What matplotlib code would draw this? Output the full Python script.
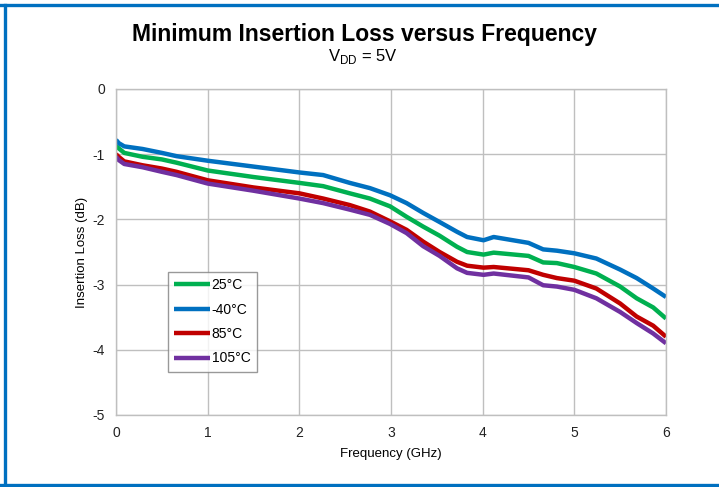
import matplotlib
matplotlib.use("Agg")
import matplotlib.pyplot as plt
from matplotlib.lines import Line2D

plt.rcParams['font.family'] = ['Liberation Sans', 'DejaVu Sans']

freq = [0.0, 0.03, 0.09, 0.29, 0.5, 0.66, 1.0, 1.5, 2.0, 2.26, 2.55, 2.77, 2.99, 3.17, 3.35,
        3.53, 3.72, 3.83, 4.01, 4.12, 4.50, 4.66, 4.81, 5.00, 5.24, 5.50, 5.68, 5.86, 6.0]

loss_m40 = [-0.78, -0.83, -0.88, -0.92, -0.98, -1.03, -1.10, -1.19, -1.28, -1.32, -1.44, -1.52, -1.63, -1.75, -1.90,
            -2.04, -2.19, -2.27, -2.32, -2.27, -2.36, -2.46, -2.48, -2.52, -2.60, -2.77, -2.90, -3.06, -3.19]
loss_25 = [-0.87, -0.91, -0.98, -1.04, -1.08, -1.13, -1.25, -1.35, -1.44, -1.49, -1.60, -1.68, -1.80, -1.96, -2.11,
           -2.25, -2.42, -2.50, -2.54, -2.51, -2.56, -2.66, -2.67, -2.73, -2.83, -3.03, -3.21, -3.35, -3.52]
loss_85 = [-1.00, -1.04, -1.11, -1.17, -1.22, -1.27, -1.40, -1.51, -1.60, -1.68, -1.78, -1.88, -2.03, -2.16, -2.34,
           -2.50, -2.65, -2.71, -2.74, -2.73, -2.78, -2.85, -2.90, -2.94, -3.06, -3.29, -3.49, -3.63, -3.80]
loss_105 = [-1.04, -1.09, -1.15, -1.20, -1.27, -1.32, -1.45, -1.56, -1.68, -1.75, -1.85, -1.93, -2.07, -2.21, -2.41,
            -2.56, -2.75, -2.82, -2.85, -2.83, -2.89, -3.01, -3.03, -3.08, -3.21, -3.42, -3.59, -3.75, -3.90]

series_labels = ["25°C", "-40°C", "85°C", "105°C"]
series_colors = ["#00B050", "#0070C0", "#C00000", "#7030A0"]
x_ticks = [0, 1, 2, 3, 4, 5, 6]
y_ticks = [0, -1, -2, -3, -4, -5]

fig = plt.figure(figsize=(7.19, 4.87), dpi=100)
ax = fig.add_axes([116/719, 1-415/487, 550/719, 326/487])

for ys, lab, col in zip([loss_25, loss_m40, loss_85, loss_105], series_labels, series_colors):
    ax.plot(freq, ys, color=col, lw=3.2, label=lab, solid_capstyle='butt', solid_joinstyle='round')

ax.set_xlim(0, 6)
ax.set_ylim(-5, 0)
ax.set_xticks(x_ticks)
ax.set_yticks(y_ticks)
ax.set_yticklabels([str(v) for v in y_ticks])
ax.grid(True, color="#BFBFBF", lw=1.0)
ax.set_axisbelow(True)
for s in ax.spines.values():
    s.set_color("#BFBFBF")
    s.set_linewidth(1.0)
ax.tick_params(length=0, labelsize=10, colors="#222222", pad=8)
ax.set_xlabel("Frequency (GHz)", fontsize=9.5, labelpad=6)
ax.set_ylabel("Insertion Loss (dB)", fontsize=9.5, labelpad=3)

leg = ax.legend(loc='upper left', bbox_to_anchor=((168-116)/550, (415-272)/326),
                fontsize=10, frameon=True, fancybox=False, handlelength=2.6,
                handletextpad=0.1, borderpad=0.45, labelspacing=0.75, borderaxespad=0)
leg.get_frame().set_edgecolor("#808080")
leg.get_frame().set_linewidth(1.0)

fig.text(365/719, 1-34/487, "Minimum Insertion Loss versus Frequency", ha='center', va='center',
         fontsize=16.5, fontweight='bold')
fig.text(363/719, 1-57/487, r"V$_{\mathregular{DD}}$ = 5V", ha='center', va='center', fontsize=12)

bc = "#0070C0"
fig.add_artist(Line2D([0, 1], [1-4.5/487, 1-4.5/487], color=bc, lw=2.4, transform=fig.transFigure))
fig.add_artist(Line2D([4.5/719, 4.5/719], [1-4.5/487, 1-485/487], color=bc, lw=2.4, transform=fig.transFigure))
fig.add_artist(Line2D([0, 1], [1-485/487, 1-485/487], color=bc, lw=2.4, transform=fig.transFigure))

fig.savefig("out.png", dpi=100)
